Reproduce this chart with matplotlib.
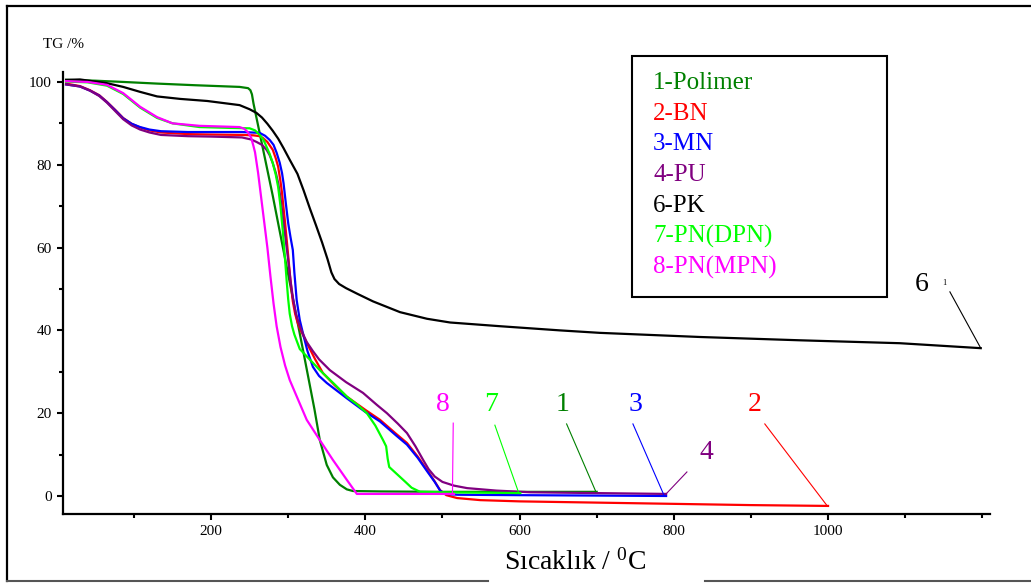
# TG curves of the polymer and its composites.

import matplotlib
matplotlib.use('Agg')
import matplotlib.pyplot as plt
from matplotlib.lines import Line2D
from matplotlib.patches import Rectangle
from matplotlib.ticker import MultipleLocator

plt.rcParams['font.family'] = ['Liberation Serif', 'DejaVu Serif']
plt.rcParams['mathtext.default'] = 'regular'

# 1-Polimer
t_pol = [12, 50, 86, 130, 180, 237, 248, 251, 253, 255, 280, 300, 320, 334,
         341, 350, 358, 367, 376, 384, 420, 500, 600, 700]
w_pol = [100.5, 100.3, 100.0, 99.6, 99.2, 98.8, 98.5, 98.0, 97.0, 94.8, 72.5,
         53.5, 34.5, 21.0, 13.5, 7.5, 4.5, 2.7, 1.6, 1.2, 1.1, 1.0, 1.0, 1.0]

# 2-BN
t_bn = [12, 30, 43, 55, 65, 76, 86, 97, 108, 120, 135, 170, 200, 240, 255,
        263, 267, 273, 280, 284, 287, 290, 292, 294, 296, 298, 300, 303, 306,
        309, 312, 315, 324, 335, 345, 360, 376, 400, 419, 440, 454, 468, 480,
        490, 497, 505, 519, 549, 600, 700, 800, 900, 1000]
w_bn = [99.6, 99.0, 98.0, 96.8, 95.2, 93.2, 91.3, 89.9, 89.0, 88.3, 87.8,
        87.4, 87.3, 87.2, 87.1, 86.9, 86.5, 85.5, 83.6, 81.5, 79.5, 76.0, 73.2,
        69.5, 65.9, 62.0, 58.0, 52.0, 47.0, 44.0, 42.0, 40.5, 37.0, 33.0, 29.7,
        26.8, 24.0, 20.8, 18.4, 15.0, 12.8, 9.5, 6.3, 3.5, 1.4, 0.2, -0.5,
        -1.0, -1.3, -1.6, -1.9, -2.2, -2.4]

# 3-MN
t_mn = [12, 30, 43, 55, 65, 76, 86, 97, 108, 120, 135, 170, 200, 240, 263,
        270, 276, 281, 285, 289, 292, 294, 296, 298, 300, 303, 306, 308, 311,
        315, 319, 325, 332, 340, 350, 376, 400, 419, 440, 454, 468, 480, 490,
        497, 503, 520, 600, 700, 790]
w_mn = [99.4, 98.9, 97.9, 96.7, 95.1, 93.1, 91.2, 89.9, 89.1, 88.5, 88.1,
        87.9, 87.9, 87.9, 87.7, 87.0, 86.0, 84.8, 82.9, 80.5, 78.0, 75.5, 72.2,
        69.0, 65.9, 62.5, 59.4, 54.0, 47.3, 42.5, 39.4, 35.0, 31.2, 29.0, 27.3,
        23.6, 20.3, 18.0, 14.6, 12.4, 9.2, 6.0, 3.4, 1.3, 0.5, 0.3, 0.2, 0.1,
        0.0]

# 4-PU
t_pu = [12, 30, 43, 55, 65, 76, 86, 97, 108, 120, 135, 170, 200, 240, 252,
        259, 266, 272, 276, 280, 284, 287, 290, 292, 296, 300, 303, 306, 310,
        315, 320, 324, 332, 340, 354, 375, 397, 415, 428, 442, 454, 465, 475,
        482, 490, 500, 515, 532, 570, 614, 700, 790]
w_pu = [99.4, 98.9, 97.9, 96.6, 95.0, 92.9, 91.0, 89.5, 88.5, 87.8, 87.2,
        86.9, 86.8, 86.6, 86.1, 85.5, 84.8, 83.6, 82.3, 80.4, 78.0, 75.6, 72.0,
        69.0, 63.0, 57.0, 52.0, 48.0, 44.0, 41.0, 38.8, 37.2, 35.0, 33.0, 30.4,
        27.5, 24.9, 22.0, 20.0, 17.5, 15.2, 12.0, 8.7, 6.5, 4.7, 3.4, 2.5, 1.9,
        1.3, 0.9, 0.7, 0.5]

# 6-PK
t_pk = [12, 30, 65, 86, 108, 130, 160, 195, 237, 250, 259, 266, 273, 280,
        287, 294, 302, 312, 320, 328, 336, 344, 351, 356, 360, 366, 375, 390,
        410, 445, 480, 510, 575, 652, 704, 834, 964, 1093, 1198]
w_pk = [100.5, 100.6, 99.7, 98.8, 97.6, 96.5, 95.9, 95.4, 94.4, 93.4, 92.5,
        91.4, 89.9, 88.2, 86.3, 84.0, 81.2, 77.8, 73.8, 69.5, 65.4, 61.2, 57.2,
        54.0, 52.4, 51.2, 50.2, 48.8, 47.0, 44.4, 42.8, 41.9, 41.0, 40.0, 39.4,
        38.4, 37.6, 36.9, 35.7]

# 7-PN(DPN)
t_dpn = [12, 40, 65, 86, 108, 130, 150, 185, 224, 250, 257, 263, 268, 272,
         276, 280, 284, 287, 290, 293, 296, 298, 300, 302, 305, 308, 312, 315,
         341, 360, 376, 390, 402, 413, 423, 427, 429, 431, 438, 445, 452, 460,
         471, 500, 550, 601]
w_dpn = [100.1, 99.9, 99.1, 97.1, 93.8, 91.3, 90.0, 89.1, 88.9, 88.8, 88.3,
         87.2, 86.0, 84.3, 82.6, 80.4, 77.5, 74.6, 70.0, 64.0, 57.0, 52.0, 47.5,
         44.0, 41.0, 39.0, 37.0, 35.5, 30.4, 27.0, 24.0, 22.0, 20.0, 17.0, 13.5,
         12.0, 9.0, 7.0, 5.8, 4.6, 3.4, 2.0, 1.0, 0.9, 0.8, 0.7]

# 8-PN(MPN)
t_mpn = [12, 40, 65, 86, 108, 130, 150, 185, 237, 243, 248, 252, 255, 257,
         261, 265, 269, 273, 277, 281, 285, 290, 296, 302, 310, 324, 341, 358,
         376, 389, 450, 515]
w_mpn = [100.2, 100.0, 99.3, 97.3, 94.0, 91.5, 90.0, 89.4, 89.1, 88.7, 87.8,
         86.5, 84.5, 83.0, 78.0, 72.0, 66.0, 60.0, 53.0, 46.5, 41.0, 36.0, 31.5,
         28.0, 24.5, 18.4, 13.5, 8.7, 3.9, 0.5, 0.5, 0.5]

names = ['1-Polimer', '2-BN', '3-MN', '4-PU', '6-PK', '7-PN(DPN)', '8-PN(MPN)']
colors = ['#008000', '#ff0000', '#0000ff', '#800080', '#000000', '#00ff00',
          '#ff00ff']
curves = [(t_pol, w_pol), (t_bn, w_bn), (t_mn, w_mn), (t_pu, w_pu),
          (t_pk, w_pk), (t_dpn, w_dpn), (t_mpn, w_mpn)]

# curve numbers with their leader lines: label position, line start, line end
tags = ['1', '2', '3', '4', '6', '7', '8']
tag_xy = [(656, 22), (905, 22), (750, 22), (842, 10.6), (1122, 51), (563, 22),
          (501, 22)]
lead_from = [(661, 17.4), (918, 17.4), (747, 17.4), (817, 5.8), (1158, 49.3),
             (568, 17.1), (514, 17.6)]
lead_to = [(699, 1.0), (999, -2.4), (787, 0.3), (790, 0.5), (1198, 35.7),
           (599, 0.7), (513, 0.6)]

W, H = 1031, 583
fig = plt.figure(figsize=(W / 100, H / 100), dpi=100)
ax = fig.add_axes([63 / W, 1 - 514 / H, (990 - 63) / W, (514 - 72) / H])

for (t, w), c in zip(curves, colors):
    ax.plot(t, w, color=c, lw=1.6, solid_joinstyle='round')

for tag, xy, p0, p1, c in zip(tags, tag_xy, lead_from, lead_to, colors):
    ax.plot([p0[0], p1[0]], [p0[1], p1[1]], color=c, lw=0.8)
    ax.text(xy[0], xy[1], tag, color=c, fontsize=20, ha='center', va='center')
ax.text(1151, 51.5, '1', fontsize=6, ha='center', va='center')

ax.set_xlim(8, 1210)
ax.set_ylim(-4.35, 102.4)
for s in ['top', 'right']:
    ax.spines[s].set_visible(False)
for s in ['left', 'bottom']:
    ax.spines[s].set_linewidth(1.6)

ax.xaxis.set_major_locator(MultipleLocator(200))
ax.xaxis.set_minor_locator(MultipleLocator(100))
ax.yaxis.set_major_locator(MultipleLocator(20))
ax.yaxis.set_minor_locator(MultipleLocator(10))
ax.tick_params(which='both', direction='out', width=1.5, labelsize=11)
ax.tick_params(which='major', length=4, pad=4)
ax.tick_params(which='minor', length=3)
ax.set_xticks([200, 400, 600, 800, 1000])

fig.text(43 / W, 1 - 44 / H, 'TG /%', fontsize=11, ha='left', va='center')
fig.text(575 / W, 1 - 570 / H, 'Sıcaklık / $^{0}$C', fontsize=20,
         ha='center', va='baseline')

# legend box
fig.add_artist(Rectangle((632 / W, 1 - 297 / H), (887 - 632) / W,
                         (297 - 56) / H, transform=fig.transFigure,
                         fill=False, lw=1.5, ec='black'))
for i, (name, c) in enumerate(zip(names, colors)):
    fig.text(653 / W, 1 - (83 + 30.7 * i) / H, name, color=c, fontsize=18,
             ha='left', va='center')

# frame around the figure
fig.add_artist(Line2D([7 / W, 1], [1 - 6 / H] * 2, color='black', lw=1.6))
fig.add_artist(Line2D([7 / W] * 2, [1 - 6 / H, 1 - 581 / H], color='black',
                      lw=1.6))
fig.add_artist(Line2D([7 / W, 488 / W], [1 - 581 / H] * 2, color='#555555',
                      lw=1.5))
fig.add_artist(Line2D([705 / W, 1], [1 - 581 / H] * 2, color='#555555',
                      lw=1.5))

fig.savefig('out.png', dpi=100)
